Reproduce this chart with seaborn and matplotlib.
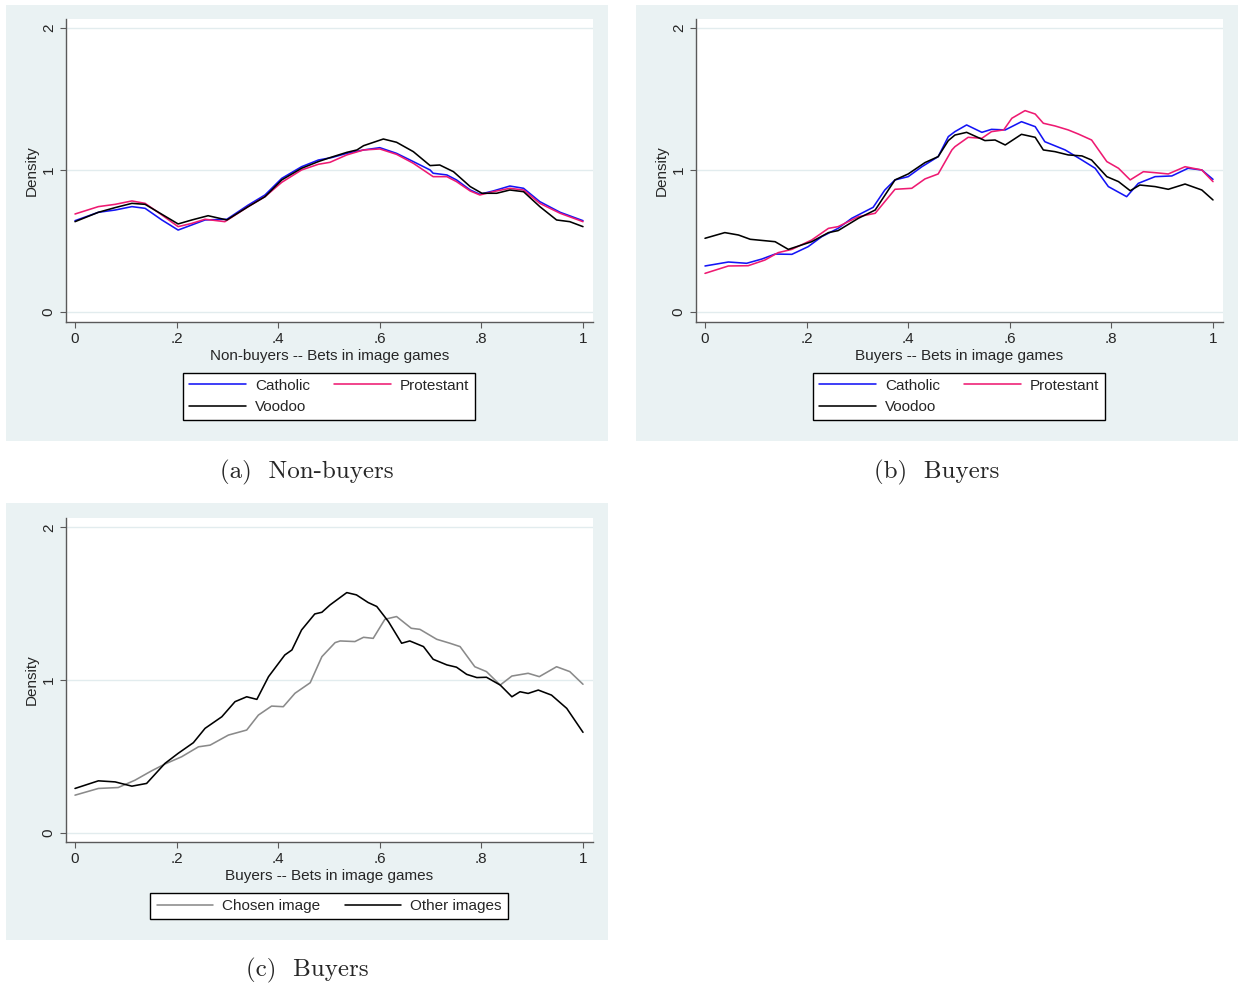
import pandas as pd
import matplotlib
matplotlib.use('Agg')
import matplotlib.pyplot as plt
import seaborn as sns

# (a) non-buyers, density of bets by image type
a_cath_x = [0.0, 0.046, 0.079, 0.112, 0.138, 0.171, 0.203, 0.230, 0.256, 0.299, 0.341, 0.374, 0.407, 0.446,
            0.479, 0.505, 0.535, 0.568, 0.600, 0.633, 0.666, 0.699, 0.705, 0.732, 0.751, 0.778, 0.797, 0.823,
            0.856, 0.883, 0.915, 0.955, 1.0]
a_cath_y = [0.643, 0.702, 0.718, 0.742, 0.730, 0.648, 0.577, 0.613, 0.648, 0.653, 0.753, 0.824, 0.941, 1.023,
            1.070, 1.087, 1.117, 1.141, 1.157, 1.117, 1.059, 1.000, 0.977, 0.965, 0.930, 0.859, 0.829, 0.852,
            0.887, 0.871, 0.777, 0.702, 0.643]
a_prot_x = [0.0, 0.046, 0.079, 0.112, 0.138, 0.171, 0.203, 0.230, 0.256, 0.295, 0.341, 0.374, 0.407, 0.446,
            0.479, 0.502, 0.535, 0.568, 0.600, 0.633, 0.666, 0.705, 0.732, 0.751, 0.778, 0.797, 0.823, 0.856,
            0.883, 0.915, 0.955, 1.0]
a_prot_y = [0.690, 0.742, 0.758, 0.782, 0.765, 0.683, 0.601, 0.624, 0.653, 0.636, 0.742, 0.812, 0.913, 1.000,
            1.040, 1.054, 1.106, 1.141, 1.148, 1.110, 1.047, 0.953, 0.953, 0.918, 0.852, 0.824, 0.847, 0.871,
            0.859, 0.765, 0.695, 0.636]
a_vood_x = [0.0, 0.046, 0.079, 0.112, 0.138, 0.171, 0.203, 0.230, 0.262, 0.299, 0.341, 0.374, 0.407, 0.446,
            0.479, 0.502, 0.535, 0.555, 0.568, 0.607, 0.633, 0.666, 0.699, 0.718, 0.745, 0.778, 0.801, 0.830,
            0.856, 0.883, 0.915, 0.948, 0.974, 1.0]
a_vood_y = [0.636, 0.702, 0.735, 0.765, 0.758, 0.688, 0.620, 0.648, 0.678, 0.648, 0.742, 0.812, 0.930, 1.012,
            1.059, 1.087, 1.124, 1.141, 1.171, 1.218, 1.195, 1.129, 1.031, 1.035, 0.988, 0.883, 0.836, 0.836,
            0.859, 0.847, 0.742, 0.648, 0.636, 0.601]

# (b) buyers
b_cath_x = [0.0, 0.046, 0.082, 0.112, 0.138, 0.171, 0.203, 0.230, 0.262, 0.289, 0.331, 0.354, 0.374, 0.400,
            0.427, 0.459, 0.479, 0.492, 0.515, 0.545, 0.564, 0.591, 0.623, 0.650, 0.669, 0.709, 0.742, 0.768,
            0.794, 0.830, 0.853, 0.886, 0.919, 0.951, 0.978, 1.0]
b_cath_y = [0.324, 0.352, 0.343, 0.373, 0.408, 0.406, 0.460, 0.531, 0.589, 0.660, 0.737, 0.859, 0.930, 0.953,
            1.023, 1.094, 1.235, 1.270, 1.317, 1.265, 1.286, 1.282, 1.340, 1.305, 1.199, 1.141, 1.070, 1.012,
            0.883, 0.812, 0.906, 0.953, 0.958, 1.012, 1.000, 0.934]
b_prot_x = [0.0, 0.046, 0.085, 0.118, 0.144, 0.171, 0.210, 0.243, 0.262, 0.302, 0.335, 0.374, 0.407, 0.433,
            0.459, 0.486, 0.492, 0.518, 0.545, 0.564, 0.588, 0.604, 0.630, 0.650, 0.666, 0.689, 0.715, 0.735,
            0.761, 0.791, 0.814, 0.837, 0.863, 0.886, 0.912, 0.945, 0.978, 1.0]
b_prot_y = [0.272, 0.324, 0.326, 0.366, 0.418, 0.441, 0.507, 0.589, 0.601, 0.671, 0.695, 0.864, 0.871, 0.937,
            0.972, 1.141, 1.164, 1.230, 1.223, 1.270, 1.282, 1.364, 1.418, 1.394, 1.329, 1.310, 1.282, 1.253,
            1.211, 1.059, 1.012, 0.930, 0.988, 0.981, 0.972, 1.023, 1.000, 0.918]
b_vood_x = [0.0, 0.039, 0.066, 0.089, 0.138, 0.164, 0.210, 0.243, 0.262, 0.302, 0.335, 0.374, 0.400, 0.433,
            0.459, 0.479, 0.492, 0.515, 0.551, 0.571, 0.591, 0.623, 0.650, 0.666, 0.689, 0.715, 0.742, 0.761,
            0.791, 0.814, 0.837, 0.856, 0.886, 0.912, 0.945, 0.978, 1.0]
b_vood_y = [0.519, 0.559, 0.542, 0.512, 0.495, 0.441, 0.495, 0.559, 0.573, 0.660, 0.718, 0.930, 0.972, 1.052,
            1.094, 1.207, 1.246, 1.265, 1.207, 1.211, 1.176, 1.251, 1.230, 1.141, 1.129, 1.106, 1.099, 1.070,
            0.953, 0.918, 0.854, 0.894, 0.883, 0.864, 0.901, 0.859, 0.789]

# (c) buyers, chosen image vs other images
c_chos_x = [0.0, 0.046, 0.085, 0.118, 0.151, 0.177, 0.210, 0.243, 0.266, 0.302, 0.338, 0.361, 0.387, 0.410,
            0.433, 0.463, 0.486, 0.512, 0.522, 0.551, 0.568, 0.587, 0.610, 0.633, 0.662, 0.679, 0.712, 0.738,
            0.758, 0.787, 0.810, 0.837, 0.860, 0.892, 0.914, 0.948, 0.974, 1.0]
c_chos_y = [0.245, 0.289, 0.295, 0.343, 0.405, 0.449, 0.497, 0.562, 0.573, 0.639, 0.672, 0.770, 0.829, 0.825,
            0.913, 0.982, 1.153, 1.245, 1.256, 1.252, 1.280, 1.273, 1.398, 1.416, 1.339, 1.332, 1.267, 1.241,
            1.219, 1.087, 1.055, 0.967, 1.026, 1.044, 1.022, 1.087, 1.055, 0.972]
c_oth_x = [0.0, 0.046, 0.079, 0.112, 0.141, 0.177, 0.203, 0.233, 0.256, 0.289, 0.315, 0.338, 0.358, 0.381,
           0.413, 0.427, 0.446, 0.472, 0.486, 0.502, 0.535, 0.554, 0.577, 0.594, 0.617, 0.643, 0.659, 0.686,
           0.705, 0.732, 0.751, 0.771, 0.791, 0.810, 0.837, 0.860, 0.876, 0.892, 0.912, 0.938, 0.968, 1.0]
c_oth_y = [0.289, 0.339, 0.332, 0.304, 0.322, 0.453, 0.519, 0.589, 0.683, 0.759, 0.858, 0.890, 0.873, 1.022,
           1.164, 1.197, 1.328, 1.433, 1.444, 1.492, 1.573, 1.558, 1.508, 1.482, 1.383, 1.241, 1.256, 1.219,
           1.136, 1.099, 1.084, 1.037, 1.016, 1.018, 0.967, 0.890, 0.923, 0.912, 0.934, 0.901, 0.814, 0.657]

x_ticks = [0, 0.2, 0.4, 0.6, 0.8, 1]
x_tick_labels = ['0', '.2', '.4', '.6', '.8', '1']
y_ticks = [0, 1, 2]
y_tick_labels = ['0', '1', '2']

religion_colors = {'Catholic': '#1414F5', 'Protestant': '#EE1A72', 'Voodoo': '#000000'}
image_colors = {'Chosen image': '#8A8A8A', 'Other images': '#000000'}

sns.set_style('white')
plt.rcParams['font.family'] = ['Liberation Sans', 'DejaVu Sans']

W, H = 1241, 988
BG = '#EAF2F3'


def frect(x0, y0, x1, y1):
    return [x0 / W, 1 - y1 / H, (x1 - x0) / W, (y1 - y0) / H]


def series(name, xs, ys):
    return pd.DataFrame({'x': xs, 'y': ys, 'series': name})


fig = plt.figure(figsize=(W / 100, H / 100), dpi=100)


def panel(bg_box, ax_box, x0px, ylim, df, palette, legend_order, xlabel, caption, cap_y, leg_y):
    bg = fig.add_axes(frect(*bg_box))
    bg.set_facecolor(BG)
    bg.set_xticks([])
    bg.set_yticks([])
    for s in bg.spines.values():
        s.set_visible(False)

    ax = fig.add_axes(frect(*ax_box))
    ax.set_facecolor('white')
    sns.lineplot(data=df, x='x', y='y', hue='series', palette=palette, estimator=None,
                 sort=False, lw=1.15, ax=ax)
    ax.set_xlim((ax_box[0] - x0px) / 508, (ax_box[2] - x0px) / 508)
    ax.set_ylim(*ylim)
    ax.set_xticks(x_ticks)
    ax.set_xticklabels(x_tick_labels)
    ax.set_yticks(y_ticks)
    ax.set_yticklabels(y_tick_labels, rotation=90, va='center')
    ax.tick_params(bottom=True, left=True, direction='out', length=4, width=0.8,
                   color='#5A5A5A', labelsize=11, pad=3)
    ax.yaxis.grid(True, color='#E2ECEE', lw=1)
    ax.set_axisbelow(True)
    for side in ['top', 'right']:
        ax.spines[side].set_visible(False)
    for side in ['left', 'bottom']:
        ax.spines[side].set_color('#5A5A5A')
        ax.spines[side].set_linewidth(1.0)
    ax.set_xlabel(xlabel, fontsize=11, labelpad=2)
    ax.set_ylabel('Density', fontsize=11, labelpad=2)

    handles, labels = ax.get_legend_handles_labels()
    lookup = dict(zip(labels, handles))
    ax.legend([lookup[k] for k in legend_order], legend_order, loc='center',
              bbox_to_anchor=(((ax_box[0] + ax_box[2]) / 2) / W, 1 - leg_y / H),
              bbox_transform=fig.transFigure, ncol=2, frameon=True, fancybox=False,
              edgecolor='black', framealpha=1, fontsize=11, handlelength=3.7,
              handletextpad=0.6, columnspacing=1.6, labelspacing=0.5, borderpad=0.4)
    ax.get_legend().get_frame().set_linewidth(1.0)

    fig.text(((bg_box[0] + bg_box[2]) / 2) / W, 1 - cap_y / H, caption,
             ha='center', va='center', family='cmr10', fontsize=18)


df_a = pd.concat([series('Catholic', a_cath_x, a_cath_y),
                  series('Protestant', a_prot_x, a_prot_y),
                  series('Voodoo', a_vood_x, a_vood_y)])
df_b = pd.concat([series('Catholic', b_cath_x, b_cath_y),
                  series('Protestant', b_prot_x, b_prot_y),
                  series('Voodoo', b_vood_x, b_vood_y)])
df_c = pd.concat([series('Chosen image', c_chos_x, c_chos_y),
                  series('Other images', c_oth_x, c_oth_y)])

# column-major legend fill: this gives rows "Catholic  Protestant" / "Voodoo"
rel_order = ['Catholic', 'Voodoo', 'Protestant']

panel((6, 5, 608, 441), (65.5, 19, 593, 322), 75, (-0.0704, 2.063), df_a, religion_colors,
      rel_order, 'Non-buyers -- Bets in image games', '(a)  Non-buyers', 472, 396.5)
panel((636, 5, 1238, 441), (695.5, 19, 1223, 322), 705, (-0.0704, 2.063), df_b, religion_colors,
      rel_order, 'Buyers -- Bets in image games', '(b)  Buyers', 472, 396.5)
panel((6, 503, 608, 940), (65.5, 518, 593, 842), 75, (-0.062, 2.062), df_c, image_colors,
      ['Chosen image', 'Other images'], 'Buyers -- Bets in image games', '(c)  Buyers', 970, 906)

fig.savefig('out.png', dpi=100, facecolor='white')
